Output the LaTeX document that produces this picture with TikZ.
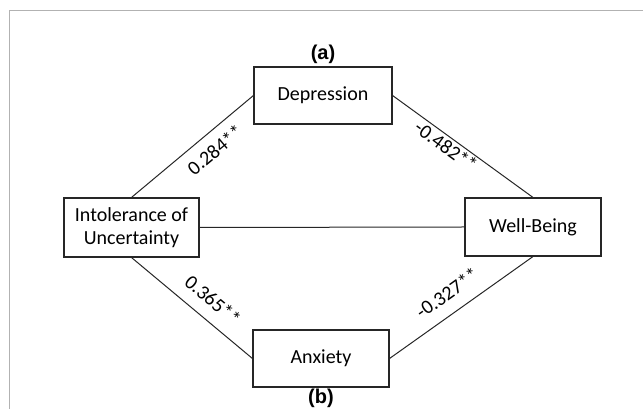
\documentclass[tikz,border=0pt]{standalone}
\usepackage{fontspec}
\setmainfont{Carlito}
\newfontfamily\arialfont{Liberation Sans}
\begin{document}
\begin{tikzpicture}[x=1pt,y=1pt,
  box/.style={draw=black!85, line width=1.1pt, minimum width=136pt, minimum height=57pt, inner sep=0pt, align=center, font=\fontsize{20}{24}\selectfont},
  conn/.style={draw=black!85, line width=1pt},
  lbl/.style={font=\fontsize{20}{24}\selectfont, inner sep=0pt},
  tag/.style={font=\arialfont\bfseries\fontsize{20}{24}\selectfont, inner sep=0pt}]
\useasboundingbox (0,0) rectangle (643,409);
\draw[black!30, line width=1pt] (9,0) -- (9,398) -- (643,398);
\node[box, minimum width=138pt] (dep) at (323,313.5) {Depression};
\node[box] (anx) at (321,50.5) {Anxiety};
\node[box, minimum width=135pt, minimum height=59pt] (iu) at (131.5,181.5) {Intolerance of\\[-1pt]Uncertainty};
\node[box, minimum height=58pt] (wb) at (533,182) {Well-Being};
\node[tag] (ta) at (323,355) {(a)};
\node[tag] (tb) at (321,11) {(b)};
\draw[conn] (iu.north) -- (dep.west);
\draw[conn] (dep.east) -- (wb.north);
\draw[conn] (iu.south) -- (anx.west);
\draw[conn] (anx.east) -- (wb.south);
\draw[conn] (iu.east) -- (wb.west);
\node[lbl, rotate=40] (l1) at (215,259) {0.284**};
\node[lbl, rotate=-36] (l2) at (446,263) {-0.482**};
\node[lbl, rotate=-40] (l3) at (213,109) {0.365**};
\node[lbl, rotate=35.5] (l4) at (447,116) {-0.327**};
\end{tikzpicture}
\end{document}
